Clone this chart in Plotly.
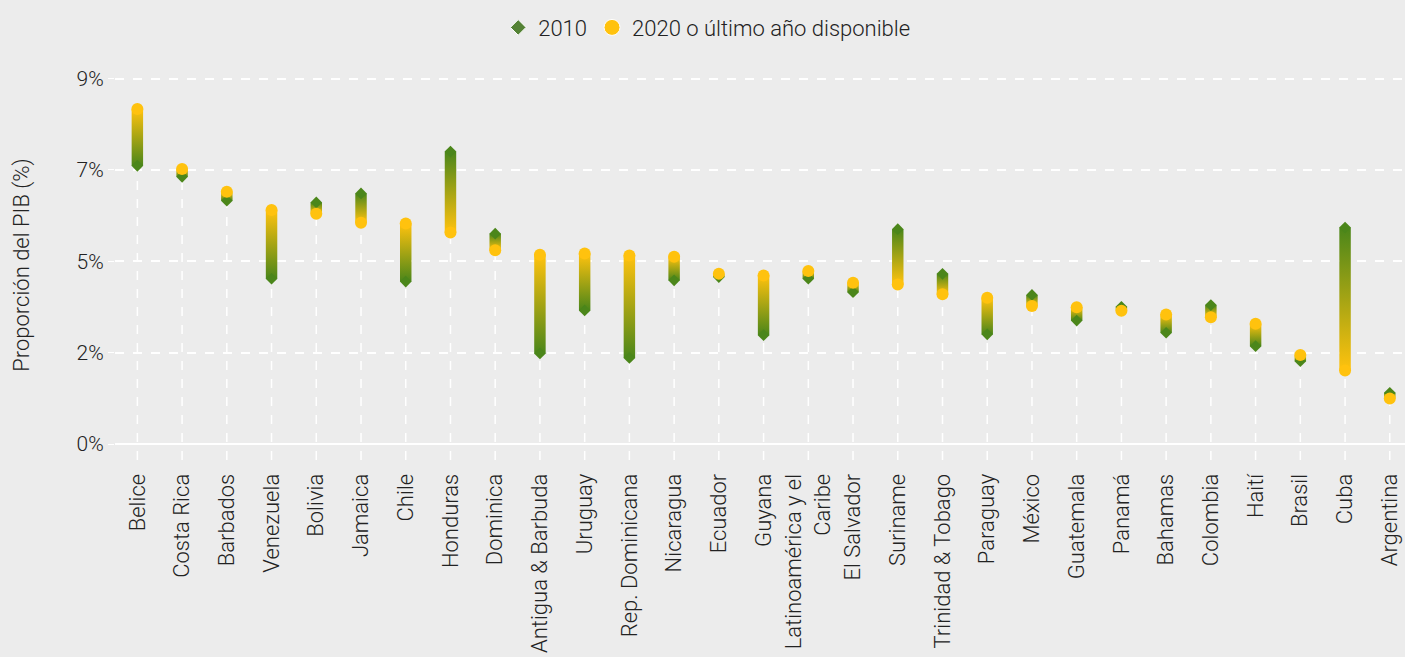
import plotly.graph_objects as go

countries = ["Belice", "Costa Rica", "Barbados", "Venezuela", "Bolivia", "Jamaica", "Chile",
             "Honduras", "Dominica", "Antigua & Barbuda", "Uruguay", "Rep. Dominicana",
             "Nicaragua", "Ecuador", "Guyana", "Latinoamérica y el<br>Caribe", "El Salvador",
             "Suriname", "Trinidad & Tobago", "Paraguay", "México", "Guatemala", "Panamá",
             "Bahamas", "Colombia", "Haití", "Brasil", "Cuba", "Argentina"]
v2010 = [6.85, 6.58, 5.99, 4.07, 5.95, 6.17, 4.00, 7.20, 5.18, 2.23, 3.29, 2.12, 4.03, 4.11,
         2.68, 4.07, 3.74, 5.29, 4.19, 2.70, 3.67, 3.04, 3.38, 2.74, 3.42, 2.41, 2.04, 5.33, 1.26]
v2020 = [8.25, 6.77, 6.21, 5.76, 5.67, 5.45, 5.43, 5.21, 4.77, 4.66, 4.69, 4.64, 4.61, 4.19,
         4.15, 4.26, 3.97, 3.93, 3.69, 3.60, 3.40, 3.37, 3.28, 3.19, 3.12, 2.96, 2.19, 1.81, 1.12]
tick_vals = [0, 2.25, 4.5, 6.75, 9]
tick_text = ["0%", "2%", "5%", "7%", "9%"]

GREEN = "#4b861a"
GOLD = "#ffc20e"
BG = "#ececec"
TXT = "#222222"
FONT = "Roboto"

Y_MIN, Y_MAX = -0.394, 9.21
HALF_W = 0.128

fig = go.Figure()

# drop lines
xs, ys = [], []
for i, (a, b) in enumerate(zip(v2010, v2020)):
    xs += [i, i, None]
    ys += [Y_MIN, min(a, b), None]
fig.add_trace(go.Scatter(x=xs, y=ys, mode="lines", showlegend=False, hoverinfo="skip",
                         line=dict(color="white", width=1.5, dash="dash")))

# gradient bars
for i, (a, b) in enumerate(zip(v2010, v2020)):
    lo, hi = min(a, b), max(a, b)
    if a <= b:
        cs = [[0, GREEN], [1, GOLD]]
    else:
        cs = [[0, GOLD], [1, GREEN]]
    fig.add_trace(go.Scatter(
        x=[i - HALF_W, i + HALF_W, i + HALF_W, i - HALF_W, i - HALF_W],
        y=[a, a, b, b, a],
        mode="lines", fill="toself", line=dict(width=0), showlegend=False, hoverinfo="skip",
        fillgradient=dict(type="vertical", colorscale=cs, start=lo, stop=hi)))

x_idx = list(range(len(countries)))
fig.add_trace(go.Scatter(x=x_idx, y=v2010, mode="markers", showlegend=False,
                         marker=dict(symbol="diamond", size=9, color=GREEN, line=dict(width=0))))
fig.add_trace(go.Scatter(x=x_idx, y=v2020, mode="markers", showlegend=False,
                         marker=dict(symbol="circle", size=12, color=GOLD, line=dict(width=0))))

# legend-only traces
fig.add_trace(go.Scatter(x=[None], y=[None], mode="markers", name="2010",
                         marker=dict(symbol="diamond", size=12, color="#548235",
                                     line=dict(width=1, color="white"))))
fig.add_trace(go.Scatter(x=[None], y=[None], mode="markers", name="2020 o último año disponible",
                         marker=dict(symbol="circle", size=17, color=GOLD,
                                     line=dict(width=1, color="white"))))

fig.update_layout(
    width=1405, height=657,
    paper_bgcolor=BG, plot_bgcolor=BG,
    margin=dict(l=115, r=0, t=70, b=197),
    font=dict(family=FONT, size=22, color=TXT, weight=300),
    legend=dict(orientation="h", xref="container", yref="container", x=0.503, xanchor="center",
                y=0.958, yanchor="middle", font=dict(size=22, color=TXT, weight=300),
                itemsizing="trace", bgcolor="rgba(0,0,0,0)", tracegroupgap=20),
    xaxis=dict(range=[-0.5, 28.34], tickvals=x_idx, ticktext=countries, tickangle=-90,
               showgrid=False, zeroline=False, showline=False,
               ticks="outside", ticklen=4, tickcolor=BG,
               tickfont=dict(size=22, color=TXT, weight=300)),
    yaxis=dict(range=[Y_MIN, Y_MAX], tickvals=tick_vals, ticktext=tick_text,
               showgrid=True, gridcolor="white", gridwidth=1.5, griddash="dash",
               zeroline=True, zerolinecolor="white", zerolinewidth=1.5,
               ticks="outside", ticklen=6, tickcolor="white", showline=False,
               tickfont=dict(size=21, color=TXT, weight=300),
               title=dict(text="Proporción del PIB (%)",
                          font=dict(size=22, color=TXT, weight=300), standoff=40)),
)

fig.write_html("out.html", config={"displayModeBar": False},
               post_script="document.body.style.margin='0';")
